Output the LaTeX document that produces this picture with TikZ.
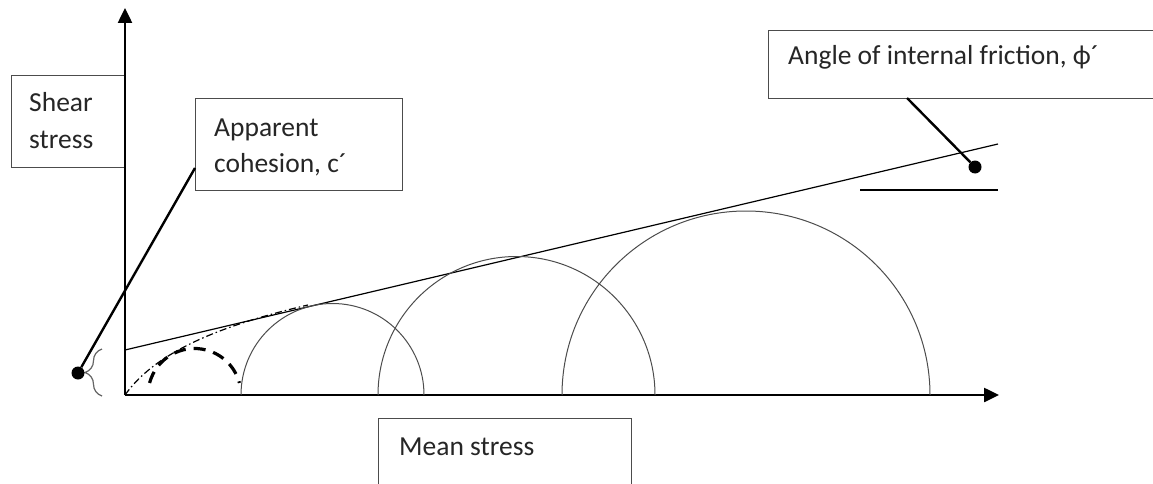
\documentclass[tikz,border=0pt]{standalone}
\usepackage{fontspec}
\setmainfont{Carlito}
\usetikzlibrary{arrows.meta,decorations.pathreplacing}
\tikzset{
  box/.style={draw=black!70, line width=1.3pt, fill=white, inner sep=0pt, anchor=north west},
  lbl/.style={anchor=base west, inner sep=0pt, text=black!85, font=\fontsize{27.5}{36}\selectfont, align=left},
  axis/.style={line width=2.5pt, -{Triangle[length=15pt,width=14pt]}},
  circ/.style={draw=black!70, line width=1pt},
  lead/.style={line width=2.4pt},
  dotn/.style={circle, fill=black, inner sep=0pt, minimum size=13pt},
}
\begin{document}
\begin{tikzpicture}[x=1pt,y=-1pt]
\useasboundingbox (0,0) rectangle (1153,484);
\clip (0,0) rectangle (1153,484);
% boxes
\node[box, minimum width=114pt, minimum height=92pt] (shearbox) at (11,75) {};
\node[box, minimum width=207pt, minimum height=92pt] (cohbox) at (195,98) {};
\node[box, minimum width=400pt, minimum height=68pt] (angbox) at (768,30) {};
\node[box, minimum width=253pt, minimum height=80pt] (meanbox) at (378,418) {};
\node[lbl] (sheartxt) at (29,148) {Shear\\stress};
\node[lbl] (cohtxt) at (214,172) {Apparent\\cohesion, c´};
\node[lbl] (angtxt) at (788,65) {Angle of internal friction, ϕ´};
\node[lbl] (meantxt) at (399,455) {Mean stress};
% axes
\coordinate (O) at (125,395);
\coordinate (ytip) at (125,8);
\coordinate (xtip) at (999,395);
\draw[axis] (O) -- (ytip);
\draw[axis] (O) -- (xtip);
% envelope
\coordinate (e1) at (125,350);
\coordinate (e2) at (998,144);
\draw[line width=1.2pt] (e1) -- (e2);
\coordinate (h1) at (860,190);
\coordinate (h2) at (998,190);
\draw[line width=1.2pt] (h1) -- (h2);
% circles
\draw[circ] (241,395) arc[start angle=180, end angle=360, radius=91.5];
\draw[circ] (378,395) arc[start angle=180, end angle=360, radius=138.5];
\draw[circ] (562,395) arc[start angle=180, end angle=360, radius=184];
% dashed small circle
\draw[line width=3.2pt, dash pattern=on 12pt off 8pt] (194.5,395) ++(195:46.5) arc[start angle=195, end angle=345, radius=46.5];
% dash-dot curve
\coordinate (dd) at (308,305);
\draw[line width=1.2pt, dash pattern=on 7pt off 3pt on 1.5pt off 3pt] (O) .. controls (150,360) and (200,330) .. (dd);
% brace
\draw[black!60, line width=1.2pt, decorate, decoration={brace, amplitude=17pt}] (102,396) -- (102,349);
% dots and leaders
\node[dotn] (dot1) at (78,373) {};
\node[dotn] (dot2) at (975,167) {};
\coordinate (c1) at (195,168);
\coordinate (c2) at (907,98);
\draw[lead] (c1) -- (dot1);
\draw[lead] (c2) -- (dot2);
\end{tikzpicture}
\end{document}
